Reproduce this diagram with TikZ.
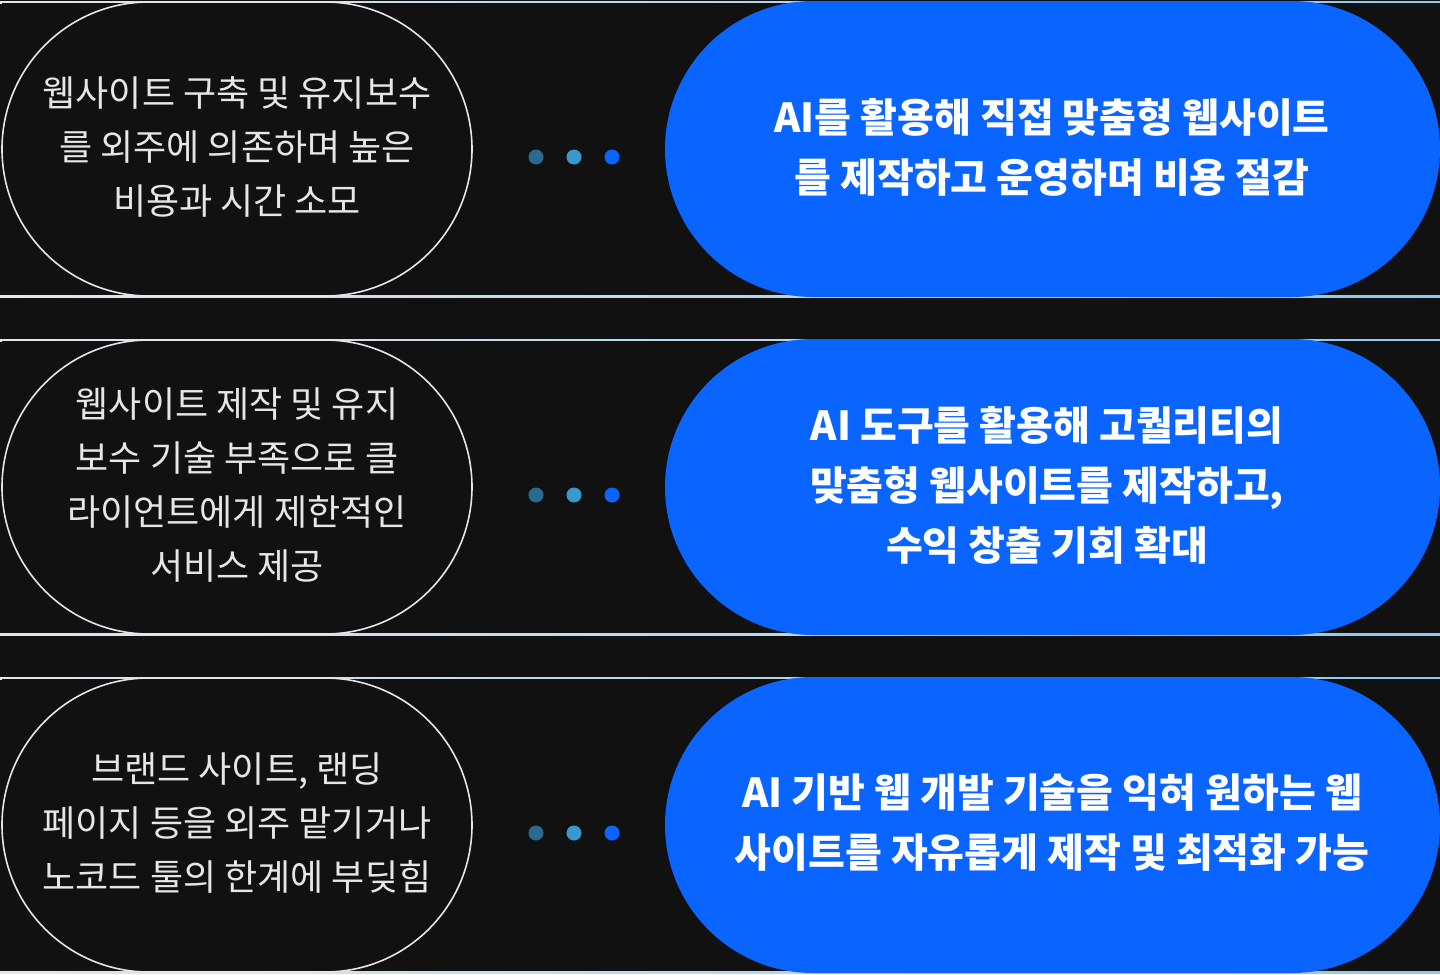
\documentclass[tikz,border=0pt]{standalone}
\usepackage{fontspec}
\setmainfont{Noto Sans CJK KR}
\definecolor{bgdark}{HTML}{111111}
\definecolor{pillblue}{HTML}{0A64FF}
\definecolor{dotone}{HTML}{2B6A8F}
\definecolor{dottwo}{HTML}{3A98D0}
\definecolor{edgeblue}{HTML}{8CC8F0}
\definecolor{txtgray}{HTML}{E6E6E6}
\tikzset{
  probbox/.style={draw=txtgray, line width=1.6bp, rounded corners=147bp, minimum width=470bp, minimum height=294bp, inner sep=0pt},
  probtext/.style={text=txtgray, align=center, font=\fontsize{36bp}{54bp}\selectfont},
  solbox/.style={fill=pillblue, rounded corners=148bp},
  soltext/.style={text=white, align=center, font=\bfseries\fontsize{40bp}{60bp}\selectfont},
  dotmark/.style={circle, minimum size=15bp, inner sep=0pt},
}
\begin{document}
\begin{tikzpicture}[x=1bp,y=-1bp]
\fill[bgdark] (0,0) rectangle (1440,974);
\useasboundingbox (0,0) rectangle (1440,974);
\foreach \row/\yc in {a/149, b/487, c/825}{
  % thin edge lines of the row
  \shade[left color=txtgray, right color=edgeblue] (0,\yc-148) rectangle (1440,\yc-146);
  \shade[left color=txtgray, right color=edgeblue] (0,\yc+146) rectangle (1440,\yc+148);
  \fill[bgdark] (2,\yc-146) rectangle (1440,\yc+146);
  \fill[solbox] (665,\yc-148) rectangle (1440,\yc+148);
  \node[probbox] (p\row) at (237,\yc) {};
  \node[dotmark, fill=dotone] (d1\row) at (536,\yc+8) {};
  \node[dotmark, fill=dottwo] (d2\row) at (574,\yc+8) {};
  \node[dotmark, fill=pillblue] (d3\row) at (612,\yc+8) {};
}
\node[probtext] (ta) at (237,147) {웹사이트 구축 및 유지보수\\를 외주에 의존하며 높은\\비용과 시간 소모};
\node[probtext] (tb) at (237,485) {웹사이트 제작 및 유지\\보수 기술 부족으로 클\\라이언트에게 제한적인\\서비스 제공};
\node[probtext] (tc) at (237,823) {브랜드 사이트, 랜딩\\페이지 등을 외주 맡기거나\\노코드 툴의 한계에 부딪힘};
\node[soltext] (sa) at (1052,147) {AI를 활용해 직접 맞춤형 웹사이트\\를 제작하고 운영하며 비용 절감};
\node[soltext] (sb) at (1047,485) {AI 도구를 활용해 고퀄리티의\\맞춤형 웹사이트를 제작하고,\\수익 창출 기회 확대};
\node[soltext] (sc) at (1052,823) {AI 기반 웹 개발 기술을 익혀 원하는 웹\\사이트를 자유롭게 제작 및 최적화 가능};
\end{tikzpicture}
\end{document}
